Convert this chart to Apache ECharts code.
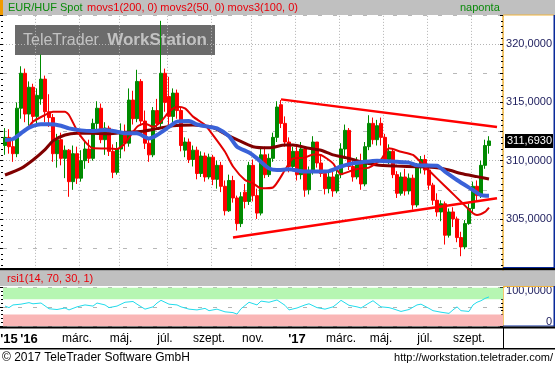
<!DOCTYPE html>
<html><head><meta charset="utf-8">
<script src="https://cdn.jsdelivr.net/npm/echarts@6/dist/echarts.min.js"></script>
<style>html,body{margin:0;padding:0;background:#fff}#c{width:555px;height:367px}</style>
</head><body><div id="c"></div>
<script>
// ---- data ----
// candles: [open, close, low, high], one candle per ~4 trading days
const candles = [
[311.3,312.0,310.5,312.8],[312.0,311.2,310.6,312.7],[311.2,310.6,309.9,311.8],[310.6,314.5,310.3,315.0],
[314.5,317.5,313.6,318.1],[317.5,314.0,313.3,317.9],[314.0,316.3,313.0,316.8],[316.3,313.8,313.2,316.6],
[313.8,315.6,312.9,316.2],[315.3,317.0,314.8,319.1],[317.0,314.2,313.3,317.3],[314.2,313.7,312.9,315.7],
[313.7,310.6,309.9,314.0],[310.6,311.8,309.4,312.3],[311.8,310.2,309.6,312.4],[310.2,310.9,308.5,311.3],
[310.9,308.2,306.9,311.0],[308.2,310.6,307.5,311.3],[310.6,308.5,308.0,311.2],[308.5,310.0,308.2,310.9],
[310.0,311.0,309.3,311.7],[311.0,310.2,309.8,311.8],[310.2,313.2,310.0,313.6],[313.2,314.5,312.5,315.1],
[314.5,311.8,311.5,314.9],[311.8,312.8,310.5,313.3],[312.8,310.8,310.4,313.0],[310.8,309.0,308.5,311.4],
[309.0,311.0,308.8,311.6],[311.0,312.5,310.2,313.2],[312.5,311.5,310.8,313.1],[311.5,315.2,311.2,316.2],
[315.2,313.6,313.1,316.0],[313.6,316.8,313.3,317.8],[316.8,313.4,313.0,317.0],[313.4,311.5,311.0,314.3],
[311.5,310.5,309.9,312.0],[310.5,314.3,310.3,314.6],[314.3,313.2,312.8,315.3],[313.2,317.5,312.9,322.0],
[317.5,315.0,314.2,317.9],[315.5,313.8,313.0,317.2],[313.8,315.8,313.2,316.2],[315.8,314.3,313.6,316.1],
[314.3,311.3,310.8,314.6],[310.9,311.6,310.3,312.0],[311.6,310.1,309.8,311.9],[310.1,310.9,309.5,311.3],
[310.9,308.9,308.4,311.2],[308.9,310.4,308.6,310.8],[310.4,308.6,308.2,310.7],[308.6,310.3,308.4,310.6],
[310.3,308.4,307.9,310.5],[308.4,309.6,307.6,310.0],[309.6,307.8,307.3,309.9],[307.8,305.7,305.3,308.3],
[305.7,308.3,305.6,308.8],[308.3,306.8,306.4,308.7],[306.8,304.6,304.0,307.0],[304.6,306.9,304.3,307.3],
[307.3,306.5,305.9,308.0],[306.5,309.6,306.2,309.9],[309.6,307.0,306.5,310.1],[307.0,305.5,305.0,307.6],
[305.5,310.5,305.3,311.0],[310.5,308.8,308.5,311.2],[308.8,310.2,308.6,310.6],[310.2,312.0,309.9,312.4],
[312.0,314.6,311.6,315.1],[314.8,313.2,312.8,315.2],[313.2,311.6,311.2,313.8],[311.6,309.5,309.0,312.0],
[309.5,310.8,309.1,311.2],[310.8,308.8,308.3,311.2],[308.8,311.0,308.4,311.6],[311.0,307.5,306.9,311.2],
[307.5,309.0,307.1,309.5],[309.0,311.6,308.8,312.1],[311.6,309.8,309.4,311.6],[309.8,308.9,308.6,310.4],
[308.9,307.6,307.1,309.2],[307.6,308.6,307.2,309.0],[308.6,307.4,306.9,309.2],[307.4,308.8,307.2,309.3],
[308.8,311.0,308.5,311.5],[311.0,312.6,310.4,313.1],[312.6,309.5,309.2,312.8],[309.5,308.6,308.2,310.0],
[308.6,309.9,308.4,310.3],[309.9,308.0,307.5,310.6],[308.0,311.2,307.8,311.6],[311.2,313.2,310.9,313.9],
[313.2,311.8,311.4,313.7],[311.8,313.0,311.3,313.5],[313.2,312.0,311.3,313.7],[312.0,310.1,309.8,312.3],
[310.1,310.8,309.7,311.4],[310.8,308.8,308.5,311.0],[308.8,307.2,306.8,309.1],[307.2,308.6,307.0,309.0],
[308.6,307.4,307.0,309.3],[307.4,308.5,307.1,308.9],[308.5,306.2,305.8,308.8],[306.2,309.4,306.0,309.8],
[309.4,310.1,308.9,310.4],[310.1,309.2,308.8,310.5],[309.2,307.9,307.5,309.6],[307.9,306.6,306.2,308.1],
[306.6,305.6,305.2,307.2],[305.6,306.3,304.8,306.6],[306.3,303.6,302.8,306.5],[303.6,305.6,303.4,305.9],
[305.6,305.0,304.3,306.0],[305.0,303.4,303.0,305.2],[303.4,302.6,301.8,303.9],[302.6,304.6,302.4,304.9],
[304.6,305.9,304.5,306.3],[305.9,307.8,305.6,308.2],[307.8,307.0,306.5,308.3],[307.0,309.6,306.8,310.0],
[309.6,311.3,309.3,311.8],[311.3,311.693,310.6,312.1]
];
const categories = Array.from({length: 125}, (_, i) => String(i));

// moving averages sampled at candle indices
const movs1Idx = [0,4,7,10,12,15,18,22,26,30,35,38,42,47,52,55,58,62,66,70,72,76,79,82,86,89,93,98,103,108,111,114,118,121];
const movs1Val = [308.77,309.34,310.06,310.95,311.7,312.2,312.35,312.35,312.3,312.43,312.55,312.75,313.0,313.06,312.85,312.3,311.8,311.2,311.1,311.34,311.34,311.06,310.9,310.5,310.2,309.9,309.63,309.54,309.48,309.4,309.2,308.9,308.63,308.43];
const movs2Idx = [6,7,10,12,15,16,18,20,22,26,28,30,33,35,37,39,41,43,45,47,50,52,55,57,60,62,64,67,70,72,75,77,79,82,84,86,88,91,94,96,99,102,105,108,111,114,117,118,120,121];
const movs2Val = [312.9,313.35,313.92,314.2,314.2,313.92,312.6,311.63,311.06,311.05,311.0,311.49,312.9,313.2,312.9,313.35,314.2,314.63,314.49,313.78,313.06,312.2,310.77,309.5,308.34,308.06,307.63,307.7,309.2,310.2,310.26,310.54,310.49,309.77,308.83,309.06,309.28,309.4,310.1,311.06,310.77,310.49,309.48,308.48,307.48,306.48,305.48,305.34,305.6,305.97];
const movs3Idx = [0,2,4,6,9,11,14,16,19,22,25,28,30,33,36,38,41,43,46,48,51,53,56,58,61,63,66,68,71,75,78,81,84,86,90,93,98,101,103,108,110,113,117,119,121];
const movs3Val = [311.77,311.86,312.35,312.83,313.12,313.12,313.0,312.77,312.6,312.55,312.63,312.49,312.35,312.35,311.9,312.2,312.9,313.35,313.4,313.1,312.9,312.77,312.1,311.2,310.7,310.2,309.34,309.2,309.26,309.06,309.06,309.1,309.5,309.7,309.9,310.0,309.9,309.83,309.6,309.57,309.06,308.34,307.48,307.05,307.0];

// trend lines [startIdx, startVal, endIdx, endVal]
const trendUpper = [69, 315.26, 123, 312.88];
const trendLower = [57, 303.4, 123, 306.78];

// RSI(14)
const rsiIdx = [0,1,2,4,6,7,9,11,13,15,16,18,20,22,23,25,26,28,30,32,33,35,37,38,39,41,43,44,46,48,50,51,53,55,57,58,59,61,63,64,66,68,70,71,73,75,76,78,80,82,83,84,86,88,89,91,92,94,96,97,99,101,103,104,106,107,109,111,112,113,114,116,117,118,119,120,121];
const rsiVal = [52,48,55,57,61,58,60,45,43,47,42,50,55,52,60,55,48,52,62,64,57,44,50,60,67,57,55,50,44,42,46,40,44,37,35,31,45,62,55,65,62,68,54,42,47,55,58,48,44,50,58,67,54,50,47,60,66,50,48,45,38,43,55,57,46,40,36,33,42,50,40,38,55,62,66,72,76];

// axis tick labels
const tickLabels = ["'15", "'16", "márc.", "máj.", "júl.", "szept.", "nov.", "'17", "márc.", "máj.", "júl.", "szept."];
const labelIdx = [1, 6, 18, 29, 40, 51, 62, 73, 84, 94, 105, 116];
const yearLabels = ["'15", "'16", "'17"];
const gridIdx = [8, 19, 29, 41, 52, 62, 73, 84, 95, 106, 117];

// ---- chart ----
const FONT = '"Liberation Sans", Arial, sans-serif';
const fmt4 = v => v.toFixed(4).replace('.', ',');
const labelMap = {};
labelIdx.forEach((k, j) => { labelMap[k] = tickLabels[j]; });
const gridSet = new Set(gridIdx);
const pairs = (idx, val) => idx.map((k, j) => [k, val[j]]);
const lastClose = candles[candles.length - 1][1];

const ORANGE = '#f0b43c', BLUE = '#0a2a9a', GRAY = '#c0c0c0';
const tickStyle = {color: '#000', width: 1};

const chart = echarts.init(document.getElementById('c'), null, {renderer: 'canvas'});
const rect = (x, y, w, h, fill, z) => ({type: 'rect', silent: true, z: z === undefined ? 100 : z, shape: {x, y, width: w, height: h}, style: {fill}});
const text = (x, y, t, fill, font, align) => ({type: 'text', silent: true, z: 101, x, y,
  style: {text: t, fill, font, align: align || 'left', textAlign: align || 'left', verticalAlign: 'middle', textVerticalAlign: 'middle'}});

chart.setOption({
  animation: false,
  backgroundColor: '#fff',
  textStyle: {fontFamily: FONT},
  grid: [
    {left: 3, top: -14.13, width: 500, height: 291.33, containLabel: false, outerBoundsMode: 'none'},
    {left: 3, top: 287.7, width: 500, height: 38.3, containLabel: false, outerBoundsMode: 'none'}
  ],
  xAxis: [
    {type: 'category', gridIndex: 0, data: categories, boundaryGap: true,
     axisLine: {show: false}, axisTick: {show: false}, axisLabel: {show: false},
     splitLine: {show: true, interval: (i) => gridSet.has(i), lineStyle: {color: '#b4b4b4', width: 1, type: [1, 2]}}},
    {type: 'category', gridIndex: 1, data: categories, boundaryGap: true,
     axisLine: {show: false}, axisTick: {show: false}, splitLine: {show: false},
     axisLabel: {show: true, interval: (i) => labelMap[i] !== undefined, margin: 7,
       formatter: (v, i) => { const t = labelMap[i] || ''; return yearLabels.includes(t) ? '{y|' + t + '}' : t; },
       color: '#000', fontSize: 12, fontFamily: FONT,
       rich: {y: {fontWeight: 'bold', fontSize: 13, fontFamily: FONT, color: '#000'}}}}
  ],
  yAxis: [
    {type: 'value', gridIndex: 0, position: 'right', min: 300, max: 325, interval: 5,
     axisLine: {show: true, lineStyle: {color: ORANGE, width: 1.5}},
     axisTick: {show: false}, minorTick: {show: false, splitNumber: 2},
     axisLabel: {formatter: v => (v % 5 === 0 && v > 301 && v < 322) ? fmt4(v) : '', margin: 49, align: 'right',
       color: '#1c1c5c', fontSize: 11, fontFamily: FONT},
     splitLine: {show: true, lineStyle: {color: '#b4b4b4', width: 1, type: [1, 2]}},
     minorSplitLine: {show: true, lineStyle: {color: '#b8b8b8', width: 1, type: [4, 11]}}},
    {type: 'value', gridIndex: 0, position: 'right', min: 300, max: 325, interval: 2.5,
     axisLine: {show: false}, axisLabel: {show: false}, splitLine: {show: false},
     axisTick: {show: true, inside: true, length: 3, lineStyle: tickStyle},
     minorTick: {show: true, splitNumber: 5, length: 2, lineStyle: tickStyle}},
    {type: 'value', gridIndex: 0, position: 'left', min: 300, max: 325, interval: 2.5,
     axisLine: {show: false}, axisLabel: {show: false}, splitLine: {show: false},
     axisTick: {show: true, inside: false, length: 3, lineStyle: tickStyle},
     minorTick: {show: true, splitNumber: 5, length: 2, lineStyle: tickStyle}},
    {type: 'value', gridIndex: 1, position: 'right', min: 0, max: 100, interval: 50,
     axisLine: {show: true, lineStyle: {color: ORANGE, width: 1.5}},
     axisTick: {show: true, inside: true, length: 3, lineStyle: tickStyle},
     minorTick: {show: true, splitNumber: 5, length: 2, lineStyle: tickStyle},
     axisLabel: {formatter: v => v === 100 ? '{t|100,0000}' : (v === 0 ? '{b|0}' : ''), margin: 49, align: 'right',
       rich: {t: {padding: [7, 0, 0, 0], color: '#1c1c5c', fontSize: 11, fontFamily: FONT},
              b: {padding: [0, 0, 8, 0], color: '#1c1c5c', fontSize: 11, fontFamily: FONT}}},
     splitLine: {show: true, lineStyle: {color: '#b4b4b4', width: 1, type: [4, 11]}}},
    {type: 'value', gridIndex: 1, position: 'left', min: 0, max: 100, interval: 50,
     axisLine: {show: false}, axisLabel: {show: false}, splitLine: {show: false},
     axisTick: {show: true, inside: false, length: 3, lineStyle: tickStyle},
     minorTick: {show: true, splitNumber: 5, length: 2, lineStyle: tickStyle}}
  ],
  series: [
    {type: 'candlestick', name: 'EUR/HUF', xAxisIndex: 0, yAxisIndex: 0, data: candles, barWidth: 3,
     itemStyle: {color: '#008a00', color0: '#ff0000', borderColor: '#008a00', borderColor0: '#ff0000', borderWidth: 1},
     markLine: {silent: true, symbol: 'none', data: [{yAxis: lastClose}],
       lineStyle: {color: 'rgba(0,0,0,0)', width: 0, opacity: 1},
       label: {show: true, position: 'end', distance: 2, opacity: 1, formatter: () => fmt4(lastClose), color: '#fff',
         backgroundColor: '#000', padding: [2, 1, 1, 2], fontSize: 11, fontFamily: FONT}}},
    {type: 'line', name: 'movs1', xAxisIndex: 0, yAxisIndex: 0, data: pairs(movs1Idx, movs1Val), symbol: 'none', smooth: 0.2,
     lineStyle: {color: '#800000', width: 3}},
    {type: 'line', name: 'movs2', xAxisIndex: 0, yAxisIndex: 0, data: pairs(movs2Idx, movs2Val), symbol: 'none', smooth: 0.2,
     lineStyle: {color: '#e30000', width: 2}},
    {type: 'line', name: 'movs3', xAxisIndex: 0, yAxisIndex: 0, data: pairs(movs3Idx, movs3Val), symbol: 'none', smooth: 0.2,
     lineStyle: {color: '#3a62d8', width: 4}},
    {type: 'line', name: 'trendUpper', xAxisIndex: 0, yAxisIndex: 0, data: [[trendUpper[0], trendUpper[1]], [trendUpper[2], trendUpper[3]]],
     symbol: 'none', lineStyle: {color: '#ff0000', width: 2.5}},
    {type: 'line', name: 'trendLower', xAxisIndex: 0, yAxisIndex: 0, data: [[trendLower[0], trendLower[1]], [trendLower[2], trendLower[3]]],
     symbol: 'none', lineStyle: {color: '#ff0000', width: 2.5}},
    {type: 'line', name: 'rsi1', xAxisIndex: 1, yAxisIndex: 3, data: pairs(rsiIdx, rsiVal), symbol: 'none',
     lineStyle: {color: '#22dcec', width: 1},
     markArea: {silent: true, data: [
       [{yAxis: 70, itemStyle: {color: '#b6f6b2', opacity: 1}}, {yAxis: 100}],
       [{yAxis: 0, itemStyle: {color: '#f9b6b6', opacity: 1}}, {yAxis: 30}]
     ]}}
  ],
  graphic: {elements: [
    // watermark (behind everything)
    rect(15, 25, 200, 30, '#6b6b6b', -10),
    {type: 'text', silent: true, z: -9, x: 23, y: 40.5, style: {text: 'TeleTrader', fill: '#c2c2c2', font: '16px "Liberation Sans", Arial, sans-serif', align: 'left', textAlign: 'left', verticalAlign: 'middle', textVerticalAlign: 'middle'}},
    {type: 'text', silent: true, z: -9, x: 207, y: 40.5, style: {text: 'WorkStation', fill: '#c2c2c2', font: 'bold 17px "Liberation Sans", Arial, sans-serif', align: 'right', textAlign: 'right', verticalAlign: 'middle', textVerticalAlign: 'middle'}},
    // header
    rect(0, 0, 555, 15, GRAY),
    rect(0, 0, 3, 15, '#f09a00'),
    text(8, 8, 'EUR/HUF Spot', '#0a8a0a', '11px "Liberation Sans", Arial, sans-serif'),
    text(87, 8, 'movs1(200, 0) movs2(50, 0) movs3(100, 0)', '#e8000a', '11px "Liberation Sans", Arial, sans-serif'),
    text(460, 8, 'naponta', '#0a8a0a', '11px "Liberation Sans", Arial, sans-serif'),
    // main axis box borders
    rect(503, 14.5, 51, 1, ORANGE),
    rect(553.5, 15, 1.5, 253, BLUE),
    rect(503, 267, 52, 1, BLUE),
    // separator + rsi header
    rect(0, 268, 555, 2.5, '#000'),
    rect(0, 270.5, 555, 15.5, GRAY),
    text(7, 278.5, 'rsi1(14, 70, 30, 1)', '#e8000a', '11px "Liberation Sans", Arial, sans-serif'),
    // rsi axis box borders
    rect(503, 286, 51, 1, ORANGE),
    rect(503, 286, 1.5, 2, ORANGE),
    rect(553.5, 286, 1.5, 40.5, BLUE),
    rect(503, 325.5, 52, 1, BLUE),
    // bottom separators
    rect(0, 326.5, 555, 2, '#000'),
    rect(503, 328, 1, 20, '#000'),
    rect(0, 348, 555, 1.5, '#000'),
    // footer
    text(2, 357.5, '© 2017 TeleTrader Software GmbH', '#000', '12px "Liberation Sans", Arial, sans-serif'),
    text(553, 357.5, 'http://workstation.teletrader.com/', '#000', '11px "Liberation Sans", Arial, sans-serif', 'right')
  ]}
});
</script>
</body></html>
